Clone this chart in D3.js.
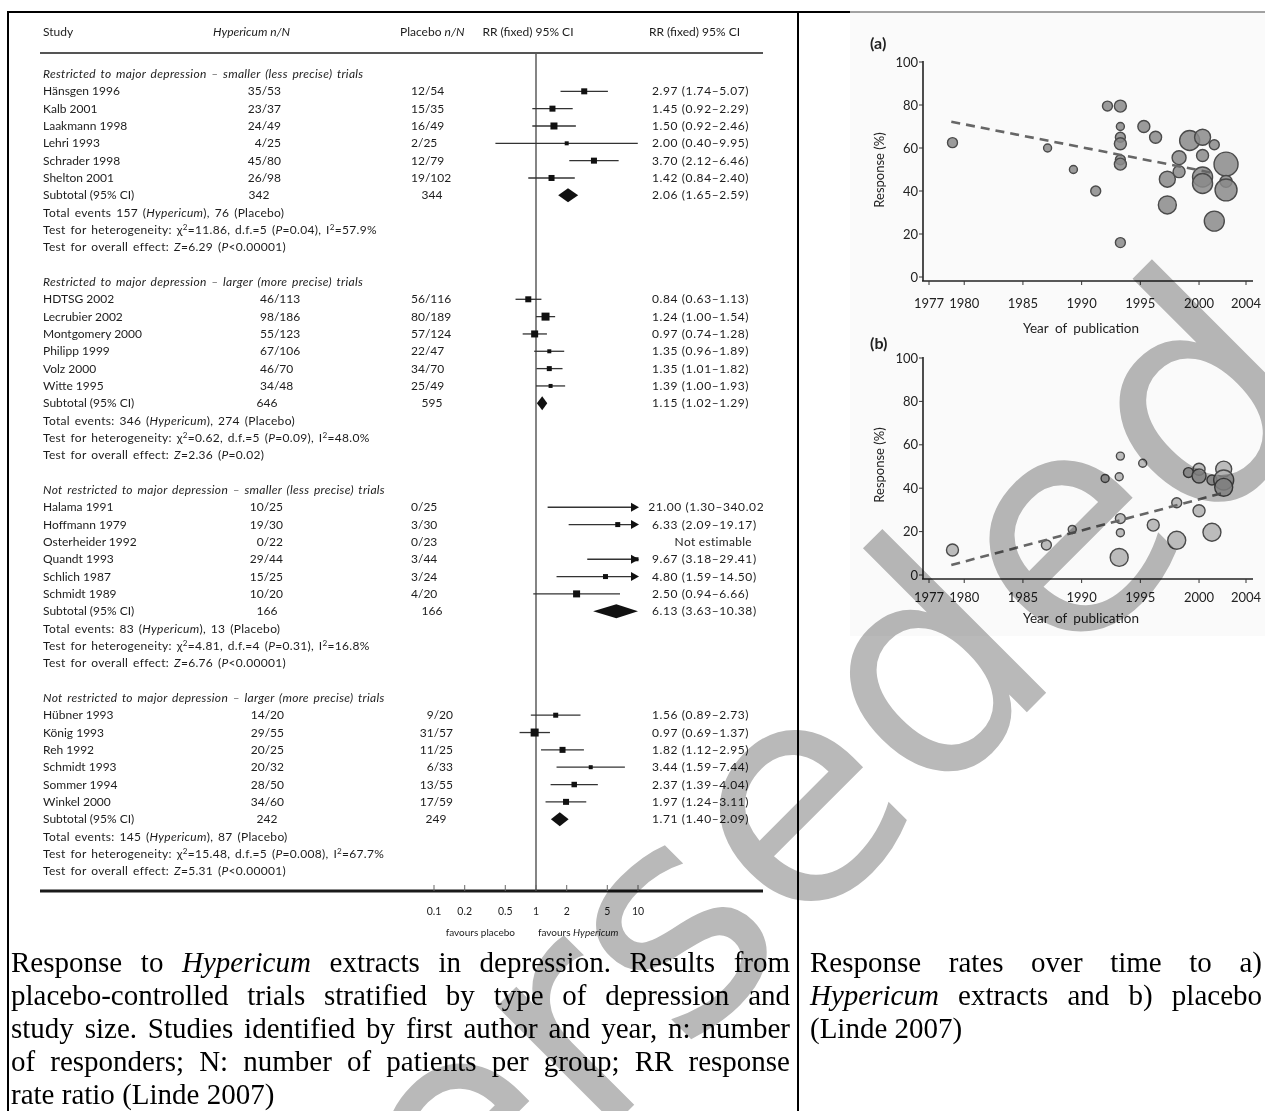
<!DOCTYPE html>
<html><head><meta charset="utf-8">
<script src="https://cdn.jsdelivr.net/npm/d3@7"></script>
<style>
html,body{margin:0;padding:0;background:#fff;}
svg{display:block;}
</style></head><body>
<svg id="c" width="1265" height="1111"></svg>
<script>
// ---------------- DATA ----------------
const sectionTitles = [
  "Restricted to major depression \u2013 smaller (less precise) trials",
  "Restricted to major depression \u2013 larger (more precise) trials",
  "Not restricted to major depression \u2013 smaller (less precise) trials",
  "Not restricted to major depression \u2013 larger (more precise) trials"
];
const studyNames = ["H\u00e4nsgen 1996","Kalb 2001","Laakmann 1998","Lehri 1993","Schrader 1998","Shelton 2001",
  "HDTSG 2002","Lecrubier 2002","Montgomery 2000","Philipp 1999","Volz 2000","Witte 1995",
  "Halama 1991","Hoffmann 1979","Osterheider 1992","Quandt 1993","Schlich 1987","Schmidt 1989",
  "H\u00fcbner 1993","K\u00f6nig 1993","Reh 1992","Schmidt 1993","Sommer 1994","Winkel 2000"];
const studySection = [0,0,0,0,0,0, 1,1,1,1,1,1, 2,2,2,2,2,2, 3,3,3,3,3,3];
const hypericumNN = ["35/53","23/37","24/49","4/25","45/80","26/98",
  "46/113","98/186","55/123","67/106","46/70","34/48",
  "10/25","19/30","0/22","29/44","15/25","10/20",
  "14/20","29/55","20/25","20/32","28/50","34/60"];
const placeboNN = ["12/54","15/35","16/49","2/25","12/79","19/102",
  "56/116","80/189","57/124","22/47","34/70","25/49",
  "0/25","3/30","0/23","3/44","3/24","4/20",
  "9/20","31/57","11/25","6/33","13/55","17/59"];
const rrEst  = [2.97,1.45,1.50,2.00,3.70,1.42, 0.84,1.24,0.97,1.35,1.35,1.39, 21.00,6.33,null,9.67,4.80,2.50, 1.56,0.97,1.82,3.44,2.37,1.97];
const rrLow  = [1.74,0.92,0.92,0.40,2.12,0.84, 0.63,1.00,0.74,0.96,1.01,1.00, 1.30,2.09,null,3.18,1.59,0.94, 0.89,0.69,1.12,1.59,1.39,1.24];
const rrHigh = [5.07,2.29,2.46,9.95,6.46,2.40, 1.13,1.54,1.28,1.89,1.82,1.93, 340.02,19.17,null,29.41,14.50,6.66, 2.73,1.37,2.95,7.44,4.04,3.11];
const studyWeight = [17.8,17.8,24.2,7.9,17.8,17.8, 17.8,31.6,24.2,7.9,12.3,7.9, 4,12.3,0,7.9,12.3,24.2, 12.3,31.6,17.8,7.9,14.8,17.8];
const subtotalHyp = [342,646,166,242];
const subtotalPla = [344,595,166,249];
const subEst  = [2.06,1.15,6.13,1.71];
const subLow  = [1.65,1.02,3.63,1.40];
const subHigh = [2.59,1.29,10.38,2.09];
const eventsHyp = [157,346,83,145];
const eventsPla = [76,274,13,87];
const hetChi = ["11.86","0.62","4.81","15.48"];
const hetDf  = [5,5,4,5];
const hetP   = ["0.04","0.09","0.31","0.008"];
const hetI2  = ["57.9","48.0","16.8","67.7"];
const overallZ = ["6.29","2.36","6.76","5.31"];
const overallP = ["<0.00001","=0.02","<0.00001","<0.00001"];
const rrTicks = [0.1,0.2,0.5,1,2,5,10];

const yearTicks = [1977,1980,1985,1990,1995,2000,2004];
const responseTicks = [0,20,40,60,80,100];
const hypYear = [1979.0,1987.1,1989.3,1991.2,1992.2,1993.3,1993.3,1993.3,1993.3,1993.3,1993.3,1993.3,1995.3,1996.3,1997.3,1997.3,1998.3,1998.3,1999.2,2000.3,2000.3,2000.3,2000.3,2001.3,2001.3,2002.3,2002.3,2002.3];
const hypResp = [62.5,60.0,50.0,40.0,79.5,79.5,70.0,65.0,62.0,54.5,52.5,16.0,70.0,65.0,45.5,33.5,55.5,49.0,63.5,65.0,56.5,46.5,43.5,61.5,26.0,52.5,44.5,40.5];
const hypSize = [31,20,20,31,31,45,20,31,45,31,45,31,45,45,80,101,61,45,125,80,45,125,125,31,125,180,45,151];
const plaYear = [1979.0,1987.0,1989.2,1992.0,1993.2,1993.3,1993.3,1993.3,1993.2,1995.2,1996.1,1998.1,1998.1,1999.1,2000.0,2000.0,2000.0,2001.1,2001.1,2002.1,2002.1,2002.1];
const plaResp = [11.5,13.8,21.0,44.5,45.3,54.8,26.0,19.5,8.1,51.5,23.0,16.0,33.3,47.2,48.7,45.6,29.6,19.7,43.8,48.8,43.8,40.4];
const plaSize = [45,31,20,20,20,20,31,20,101,20,45,101,31,31,45,61,45,101,31,80,125,101];
const hypTrendYear = [1978.9, 2001.1];
const hypTrendResp = [72.2, 48.5];
const plaTrendYear = [1978.9, 2001.9];
const plaTrendResp = [4.6, 37.6];

const captionLeft = [
  [["Response"],["to"],["Hypericum",1],["extracts"],["in"],["depression."],["Results"],["from"]],
  [["placebo-controlled"],["trials"],["stratified"],["by"],["type"],["of"],["depression"],["and"]],
  [["study"],["size."],["Studies"],["identified"],["by"],["first"],["author"],["and"],["year,"],["n:"],["number"]],
  [["of"],["responders;"],["N:"],["number"],["of"],["patients"],["per"],["group;"],["RR"],["response"]],
  [["rate"],["ratio"],["(Linde"],["2007)"]]
];
const captionRight = [
  [["Response"],["rates"],["over"],["time"],["to"],["a)"]],
  [["Hypericum",1],["extracts"],["and"],["b)"],["placebo"]],
  [["(Linde"],["2007)"]]
];

// ---------------- DRAW ----------------
const svg = d3.select("#c");
const defs = svg.append("defs");
defs.append("clipPath").attr("id","clipRR").append("rect").attr("x",0).attr("y",0).attr("width",763).attr("height",1111);

svg.append("rect").attr("x",850).attr("y",13).attr("width",415).attr("height",623).attr("fill","#fafafa");

svg.append("line").attr("x1",850).attr("x2",1265).attr("y1",12).attr("y2",12).attr("stroke","#444").attr("stroke-width",1);
svg.append("line").attr("x1",7).attr("x2",850).attr("y1",12).attr("y2",12).attr("stroke","#000").attr("stroke-width",2);
svg.append("line").attr("x1",8).attr("x2",8).attr("y1",11).attr("y2",1111).attr("stroke","#000").attr("stroke-width",2);
svg.append("line").attr("x1",798).attr("x2",798).attr("y1",11).attr("y2",1111).attr("stroke","#000").attr("stroke-width",2);

// ---- forest plot ----
const F = svg.append("g").attr("font-family","Lato, 'Open Sans', sans-serif").attr("font-size",12).attr("fill","#1c1c1c");
const xRR = d3.scaleLog().domain([0.1,10]).range([434,638]);
const rowY = i => 74 + i*17.33;
const sq = d3.scaleSqrt().domain([0,40]).range([0,9]);
const f2 = d3.format(".2f");

function rich(g, x, y, parts, anchor) {
  const t = g.append("text").attr("x",x).attr("y",y).attr("text-anchor",anchor||"start");
  let nextDy = 0;
  parts.forEach(p => {
    const s = t.append("tspan");
    if (nextDy) { s.attr("dy", nextDy); nextDy = 0; }
    if (typeof p === "string") s.text(p);
    else if (p.i !== undefined) s.attr("font-style","italic").text(p.i);
    else if (p.sup !== undefined) { s.attr("dy",-4).attr("font-size","0.68em").text(p.sup); nextDy = 4; }
  });
  return t;
}
const sentence = t => t.attr("letter-spacing",0.3).attr("word-spacing",1.5);
const numeric = t => t.attr("letter-spacing",0.6);

// header
const hy = 36;
rich(F, 43, hy, ["Study"]);
rich(F, 213, hy, [{i:"Hypericum n/N"}]);
rich(F, 400, hy, ["Placebo ", {i:"n/N"}]);
rich(F, 528, hy, ["RR (fixed) 95% CI"], "middle");
rich(F, 649, hy, ["RR (fixed) 95% CI"]);
F.append("line").attr("x1",40).attr("x2",763).attr("y1",53).attr("y2",53).attr("stroke","#555").attr("stroke-width",2);

F.append("line").attr("x1",xRR(1)).attr("x2",xRR(1)).attr("y1",54).attr("y2",891).attr("stroke","#333").attr("stroke-width",1.2);

const hypAnchor = ["end","start","end","end"], hypX = [281,260,283,284];
const plaAnchor = ["start","start","start","end"], plaX = [411,411,411,453];

sectionTitles.forEach((title, s) => {
  const base = s*12;
  sentence(rich(F, 43, rowY(base)+4, [{i:title}]));
  const ys = rowY(base+7);
  rich(F, 43, ys+4, ["Subtotal (95% CI)"]);
  rich(F, s===0?259:267, ys+4, [String(subtotalHyp[s])], "middle");
  rich(F, s===3?436:432, ys+4, [String(subtotalPla[s])], "middle");
  const hi = Math.min(subHigh[s], 10);
  F.append("polygon").attr("points", [[xRR(subLow[s]),ys],[xRR(subEst[s]),ys-7],[xRR(hi),ys],[xRR(subEst[s]),ys+7]].map(p=>p.join(",")).join(" ")).attr("fill","#111");
  numeric(rich(F, 652, ys+4, [`${f2(subEst[s])} (${f2(subLow[s])}\u2013${f2(subHigh[s])})`]));
  sentence(rich(F, 43, rowY(base+8)+4, [s===0?"Total events ":"Total events: ", `${eventsHyp[s]} (`, {i:"Hypericum"}, `), ${eventsPla[s]} (Placebo)`]));
  sentence(rich(F, 43, rowY(base+9)+4, ["Test for heterogeneity: \u03c7", {sup:"2"}, `=${hetChi[s]}, d.f.=${hetDf[s]} (`, {i:"P"}, `=${hetP[s]}), I`, {sup:"2"}, `=${hetI2[s]}%`]));
  sentence(rich(F, 43, rowY(base+10)+4, ["Test for overall effect: ", {i:"Z"}, `=${overallZ[s]} (`, {i:"P"}, `${overallP[s]})`]));
});

const counters = [0,0,0,0];
studyNames.forEach((name, k) => {
  const s = studySection[k];
  const j = counters[s]++;
  const y = rowY(s*12 + 1 + j);
  rich(F, 43, y+4, [name]);
  rich(F, hypX[s], y+4, [hypericumNN[k]], hypAnchor[s]);
  rich(F, plaX[s], y+4, [placeboNN[k]], plaAnchor[s]);
  if (rrEst[k] == null) {
    rich(F, 752, y+4, ["Not estimable"], "end").attr("letter-spacing",0.3);
    return;
  }
  const over = rrHigh[k] > 10;
  const lo = Math.max(rrLow[k], 0.1);
  const x2 = over ? xRR(10) - 5 : xRR(rrHigh[k]);
  F.append("line").attr("x1",xRR(lo)).attr("x2",x2).attr("y1",y).attr("y2",y).attr("stroke","#333").attr("stroke-width",1.3);
  if (rrEst[k] <= 10) {
    const side = Math.max(3.5, sq(studyWeight[k]));
    F.append("rect").attr("x",xRR(rrEst[k])-side/2).attr("y",y-side/2).attr("width",side).attr("height",side).attr("fill","#111");
  }
  if (over) {
    const xe = xRR(10);
    F.append("polygon").attr("points",`${xe-7},${y-4.5} ${xe+1},${y} ${xe-7},${y+4.5}`).attr("fill","#111");
  }
  const t = numeric(rich(F, 652, y+4, [`${f2(rrEst[k])} (${f2(rrLow[k])}\u2013${f2(rrHigh[k])})`]));
  t.attr("clip-path","url(#clipRR)");
  const w = t.node().getComputedTextLength();
  if (652 + w > 768) t.attr("x", 768 - w);
});

// forest axis
F.append("line").attr("x1",40).attr("x2",763).attr("y1",891).attr("y2",891).attr("stroke","#1a1a1a").attr("stroke-width",3);
rrTicks.forEach(t => {
  F.append("line").attr("x1",xRR(t)).attr("x2",xRR(t)).attr("y1",885).attr("y2",891).attr("stroke","#666").attr("stroke-width",1);
  F.append("text").attr("x",xRR(t)).attr("y",915).attr("text-anchor","middle").attr("font-size",10.5).text(String(t));
});
F.append("text").attr("x",515).attr("y",936).attr("text-anchor","end").attr("font-size",10).text("favours placebo");
rich(F, 538, 936, ["favours ", {i:"Hypericum"}]).attr("font-size",10);

// ---- scatter panels ----
const xYear = d3.scaleLinear().domain([1977,2004]).range([929,1246]);
const rS = d3.scaleSqrt().domain([0,180]).range([0,12]);
function panel(o) {
  const yS = d3.scaleLinear().domain([0,100]).range([o.y0, o.y100]);
  const g = svg.append("g").attr("font-family","Lato, 'Open Sans', sans-serif").attr("fill","#222");
  const ax = o.axisY;
  g.append("line").attr("x1",923).attr("x2",923).attr("y1",yS(100)-1).attr("y2",ax).attr("stroke","#222").attr("stroke-width",1.6);
  g.append("line").attr("x1",922).attr("x2",1253).attr("y1",ax).attr("y2",ax).attr("stroke","#222").attr("stroke-width",1.6);
  responseTicks.forEach(v => {
    g.append("line").attr("x1",919).attr("x2",923).attr("y1",yS(v)).attr("y2",yS(v)).attr("stroke","#333");
    g.append("text").attr("x",918).attr("y",yS(v)+4.5).attr("text-anchor","end").attr("font-size",13).text(v);
  });
  yearTicks.forEach(v => {
    g.append("line").attr("x1",xYear(v)).attr("x2",xYear(v)).attr("y1",ax).attr("y2",ax+4).attr("stroke","#333");
    g.append("text").attr("x",xYear(v)).attr("y",ax+o.lab).attr("text-anchor","middle").attr("font-size",13).text(v);
  });
  g.append("text").attr("x",1081).attr("y",o.titleY).attr("text-anchor","middle").attr("font-size",13.5).attr("word-spacing",3).text("Year of publication");
  g.append("text").attr("transform",`translate(884,${o.labY}) rotate(-90)`).attr("text-anchor","middle").attr("font-size",13).text("Response (%)");
  g.append("text").attr("x",870).attr("y",o.tagY).attr("font-size",16).attr("font-weight","bold").text(o.tag);
  o.years.forEach((yr,i) => {
    g.append("circle").attr("cx",xYear(yr)).attr("cy",yS(o.resp[i])).attr("r",rS(o.size[i]))
      .attr("fill",o.fill).attr("fill-opacity",0.85).attr("stroke","#4a4a4a").attr("stroke-width",1.4);
  });
  g.append("path").attr("d", d3.line()(o.ty.map((yr,i)=>[xYear(yr), yS(o.tr[i])])))
    .attr("stroke","#666").attr("stroke-width",2.6).attr("stroke-dasharray","9,6").attr("fill","none");
}
panel({y0:277,y100:62,axisY:281,lab:27,titleY:333,labY:170,tagY:49,tag:"(a)",years:hypYear,resp:hypResp,size:hypSize,ty:hypTrendYear,tr:hypTrendResp,fill:"#8a8a8a"});
panel({y0:575,y100:358,axisY:579,lab:23,titleY:623,labY:465,tagY:349,tag:"(b)",years:plaYear,resp:plaResp,size:plaSize,ty:plaTrendYear,tr:plaTrendResp,fill:"#b0b0b0"});

// ---- captions ----
const C = svg.append("g").attr("font-family","'Liberation Serif','Times New Roman',serif").attr("font-size",29).attr("fill","#000");
function captionBlock(lines, x0, x1, y0, lh) {
  lines.forEach((words, li) => {
    const y = y0 + li*lh;
    const last = li === lines.length - 1;
    const nodes = words.map(w => {
      const t = C.append("text").attr("y",y).text(w[0]);
      if (w[1]) t.attr("font-style","italic");
      return t;
    });
    const widths = nodes.map(n => n.node().getComputedTextLength());
    const total = d3.sum(widths);
    const space = last ? 7.25 : (x1 - x0 - total) / (words.length - 1);
    let x = x0;
    nodes.forEach((n,i) => { n.attr("x",x); x += widths[i] + space; });
  });
}
captionBlock(captionLeft, 11, 790, 972, 33);
captionBlock(captionRight, 810, 1262, 972, 33);

// ---- watermark ----
svg.append("text").attr("transform","translate(52,1687) rotate(-45)")
  .attr("font-family","'DejaVu Sans', sans-serif").attr("font-size",305).attr("fill","#b9b9b9")
  .style("mix-blend-mode","multiply").text("Superseded");
</script>
</body></html>
